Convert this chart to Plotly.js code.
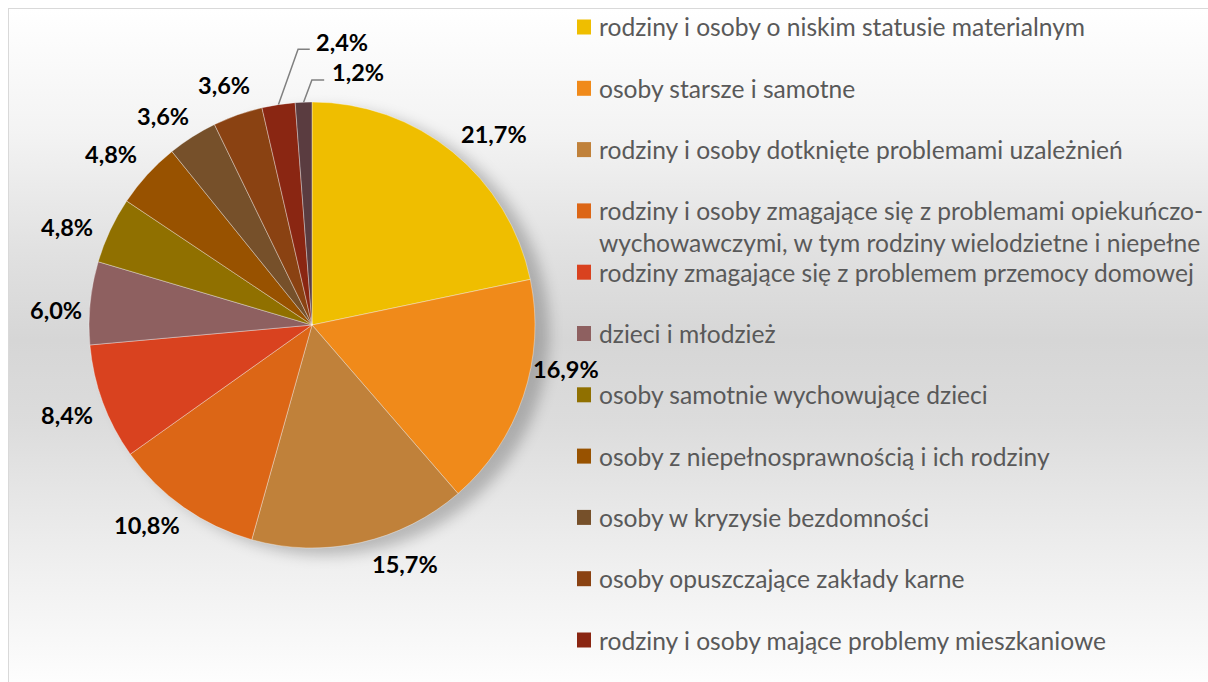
<!DOCTYPE html>
<html>
<head>
<meta charset="utf-8">
<script src="https://cdn.plot.ly/plotly-3.0.1.min.js"></script>
<style>
  html, body { margin: 0; padding: 0; background: #ffffff; overflow: hidden; }
  #frame {
    position: absolute; left: 8px; top: 8px; width: 1210px; height: 690px;
    border-left: 1.5px solid #d9d9d9; border-top: 1.5px solid #d9d9d9;
    background: linear-gradient(to bottom, #ffffff 0%, #f3f3f3 18%, #e0e0e0 36%, #d6d6d6 48%, #dcdcdc 60%, #ededed 78%, #fbfbfb 95%, #ffffff 100%);
  }
  #chart { position: absolute; left: 0; top: 0; width: 1208px; height: 682px; }
  #chart .pielayer { filter: drop-shadow(14px 7px 7px rgba(0,0,0,0.22)); }
</style>
</head>
<body>
<div id="frame"></div>
<div id="chart"></div>
<script>
const W = 1208, H = 682;

const labels = [
  "rodziny i osoby o niskim statusie materialnym",
  "osoby starsze i samotne",
  "rodziny i osoby dotknięte problemami uzależnień",
  "rodziny i osoby zmagające się z problemami opiekuńczo-<br>wychowawczymi, w tym rodziny wielodzietne i niepełne",
  "rodziny zmagające się z problemem przemocy domowej",
  "dzieci i młodzież",
  "osoby samotnie wychowujące dzieci",
  "osoby z niepełnosprawnością i ich rodziny",
  "osoby w kryzysie bezdomności",
  "osoby opuszczające zakłady karne",
  "rodziny i osoby mające problemy mieszkaniowe",
  "pozostałe"
];
const values = [21.7, 16.9, 15.7, 10.8, 8.4, 6.0, 4.8, 4.8, 3.6, 3.6, 2.4, 1.2];
const colors = [
  "#EFBE00", "#F08A1A", "#C0813A", "#DC6616", "#D9421F", "#8E6060",
  "#907000", "#985200", "#76502A", "#8A4212", "#8A2612", "#5A3C40"
];
const visibleLegendCount = 11;

const px = x => x / W;
const py = y => 1 - y / H;

// pie geometry (pixels)
const CX = 312, CY = 325, R = 223;

// data-label placement relative to the slice's mid-angle point on the rim (pixels)
const labelOffsets = [
  [41, -18], [43, -27], [44, 21], [-37, 18], [-36, 13], [-34, 7],
  [-43, -3], [-36, -21], [-29, -21], [-14, -30]
];
// leader-line labels for the two thinnest slices: [elbowDx, elbowDy, lineEndDx, textLeftDx, textCenterDy]
const leaderStyle = [
  [19.6, -55.2, 31.3, 36, -62.5],
  [8.3, -22.2, 20.6, 26, -30.5]
];

const labelFont = { family: "Lato", size: 23.5, color: "#000000", weight: "bold" };
const fmt = v => v.toFixed(1).replace(".", ",") + "%";

const shapes = [];
const annotations = [];

// legend
for (let i = 0; i < visibleLegendCount; i++) {
  const cy = 27 + i * 61.3;
  shapes.push({
    type: "rect", xref: "paper", yref: "paper",
    x0: px(577), x1: px(591), y0: py(cy + 7.5), y1: py(cy - 7.5),
    fillcolor: colors[i], line: { width: 0 }
  });
  labels[i].split("<br>").forEach((line, j) => {
    annotations.push({
      xref: "paper", yref: "paper", x: px(597), y: py(cy + j * 32),
      xanchor: "left", yanchor: "middle", showarrow: false, text: line,
      font: { family: "Lato", size: 24.6, color: "#595959" }
    });
  });
}

// data labels anchored on each slice's mid-angle rim point
const total = values.reduce((a, b) => a + b, 0);
let cum = 0;
const midAngles = values.map(v => { const m = (cum + v / 2) / total * 2 * Math.PI; cum += v; return m; });
midAngles.forEach((a, i) => {
  const rx = CX + R * Math.sin(a), ry = CY - R * Math.cos(a);
  if (i < labelOffsets.length) {
    annotations.push({
      xref: "paper", yref: "paper", x: px(rx), y: py(ry),
      xshift: labelOffsets[i][0], yshift: -labelOffsets[i][1],
      xanchor: "center", yanchor: "middle", showarrow: false,
      text: fmt(values[i]), font: labelFont
    });
  } else {
    const s = leaderStyle[i - labelOffsets.length];
    const ex = rx + s[0], ey = ry + s[1], lx = rx + s[2];
    shapes.push({
      type: "path", xref: "paper", yref: "paper",
      path: `M ${px(rx)} ${py(ry)} L ${px(ex)} ${py(ey)} L ${px(lx)} ${py(ey)}`,
      line: { color: "#808080", width: 1.5 }
    });
    annotations.push({
      xref: "paper", yref: "paper", x: px(rx), y: py(ry),
      xshift: s[3], yshift: -s[4],
      xanchor: "left", yanchor: "middle", showarrow: false,
      text: fmt(values[i]), font: labelFont
    });
  }
});

const trace = {
  type: "pie",
  labels: labels,
  values: values,
  sort: false,
  direction: "clockwise",
  rotation: 0,
  marker: { colors: colors, line: { color: "rgba(255,255,255,0.45)", width: 0.8 } },
  textinfo: "none",
  showlegend: false,
  hoverinfo: "label+value",
  domain: { x: [px(CX - R), px(CX + R)], y: [py(CY + R), py(CY - R)] }
};

const layout = {
  width: W, height: H,
  margin: { l: 0, r: 0, t: 0, b: 0 },
  paper_bgcolor: "rgba(0,0,0,0)",
  plot_bgcolor: "rgba(0,0,0,0)",
  separators: ", ",
  showlegend: false,
  shapes: shapes,
  annotations: annotations
};

Plotly.newPlot("chart", [trace], layout, { displayModeBar: false, staticPlot: true });
</script>
</body>
</html>
